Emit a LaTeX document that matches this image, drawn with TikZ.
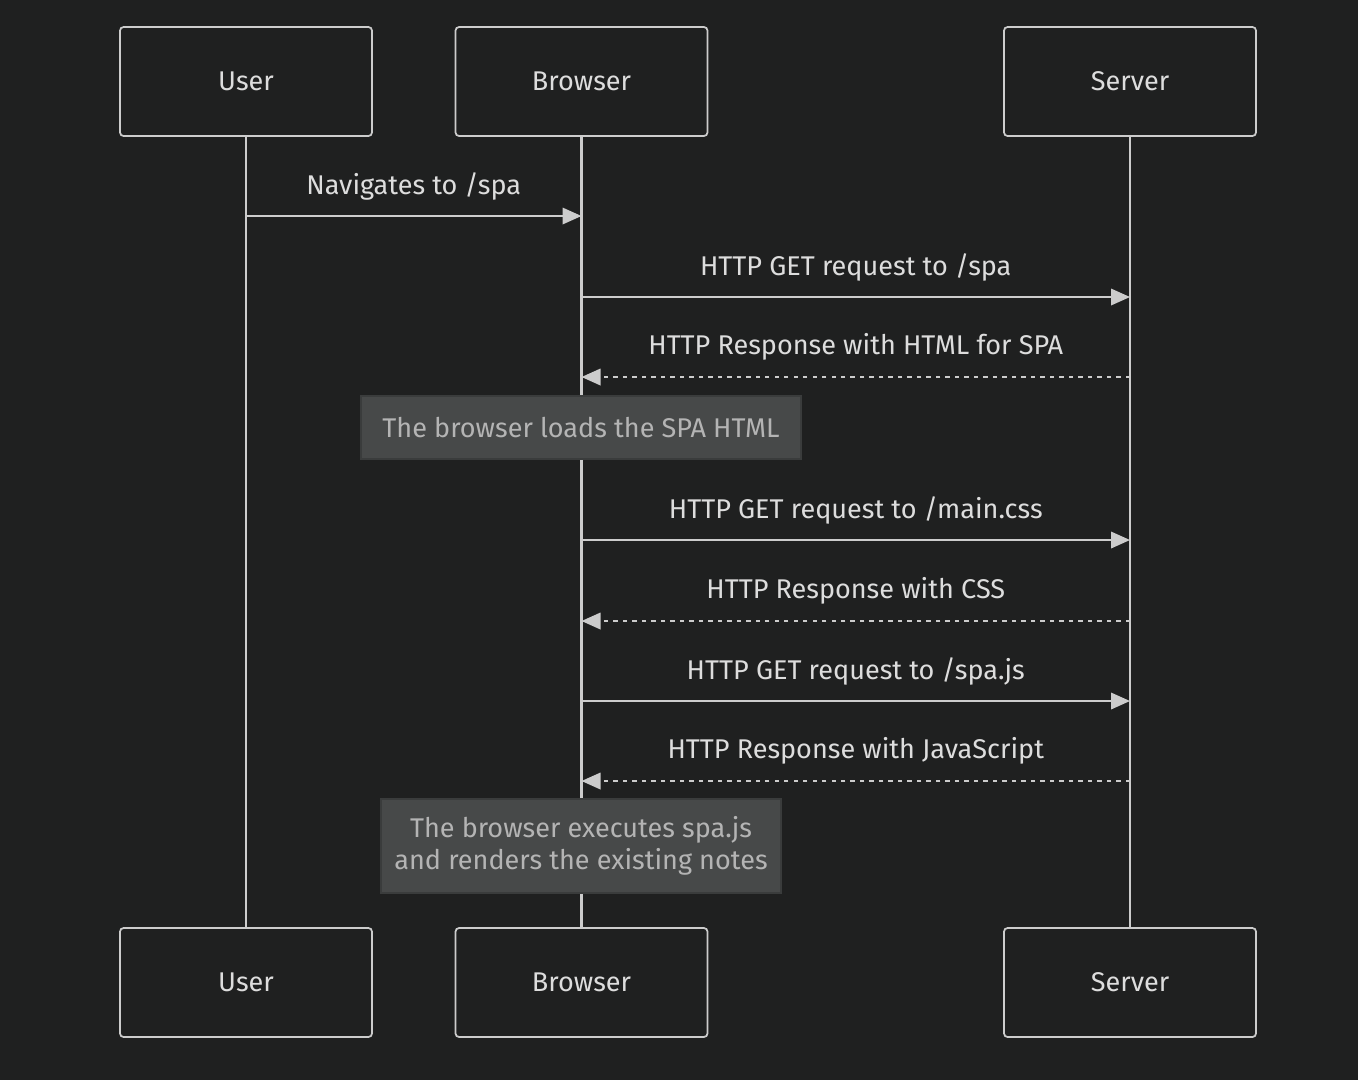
\documentclass[tikz,border=0pt]{standalone}
\usepackage{fontspec}
\setmainfont{Fira Sans}
\usetikzlibrary{arrows.meta}
\definecolor{bg}{HTML}{1F2020}
\definecolor{linec}{HTML}{CCCCCC}
\definecolor{textc}{HTML}{DDDDDD}
\definecolor{notefill}{HTML}{474949}
\definecolor{notedraw}{HTML}{3A3C3C}
\definecolor{notetext}{HTML}{B4B4B4}

\begin{document}
\begin{tikzpicture}[x=0.02cm,y=-0.02cm,
    font=\fontsize{15.4}{18.2}\selectfont,
    actor/.style={draw=linec,fill=bg,line width=1pt,rounded corners=2pt,
        minimum width=5.04cm,minimum height=2.18cm,text=textc},
    life/.style={linec,line width=1.6pt},
    msg/.style={linec,line width=1.1pt,-{Triangle[length=0.38cm,width=0.33cm]}},
    reply/.style={msg,dash pattern=on 2.5pt off 2.9pt},
    lbl/.style={midway,yshift=0.6cm,text=textc},
    note/.style={draw=notedraw,fill=notefill,line width=1pt,text=notetext,align=center}]
    \fill[bg] (0,0) rectangle (1358,1080);
    % actors, top and bottom
    \node[actor] (user) at (246,81.5) {User};
    \node[actor] (browser) at (581.5,81.5) {Browser};
    \node[actor] (server) at (1130,81.5) {Server};
    \node[actor] (userb) at (246,982.5) {User};
    \node[actor] (browserb) at (581.5,982.5) {Browser};
    \node[actor] (serverb) at (1130,982.5) {Server};
    % lifelines
    \draw[life] (user) -- (userb);
    \draw[life] (browser) -- (browserb);
    \draw[life] (server) -- (serverb);
    % message rows
    \coordinate (m1) at (0,216);
    \coordinate (m2) at (0,297);
    \coordinate (m3) at (0,377);
    \coordinate (m4) at (0,540);
    \coordinate (m5) at (0,621);
    \coordinate (m6) at (0,701);
    \coordinate (m7) at (0,781);
    \draw[msg] (user |- m1) -- node[lbl] {Navigates to /spa} (browser |- m1);
    \draw[msg] (browser |- m2) -- node[lbl] {HTTP GET request to /spa} (server |- m2);
    \draw[reply] (server |- m3) -- node[lbl] {HTTP Response with HTML for SPA} (browser |- m3);
    \node[note,minimum width=8.8cm,minimum height=1.26cm] (loaded) at (581,427.5) {The browser loads the SPA HTML};
    \draw[msg] (browser |- m4) -- node[lbl] {HTTP GET request to /main.css} (server |- m4);
    \draw[reply] (server |- m5) -- node[lbl] {HTTP Response with CSS} (browser |- m5);
    \draw[msg] (browser |- m6) -- node[lbl] {HTTP GET request to /spa.js} (server |- m6);
    \draw[reply] (server |- m7) -- node[lbl] {HTTP Response with JavaScript} (browser |- m7);
    \node[note,minimum width=8cm,minimum height=1.88cm] (executes) at (581,846) {The browser executes spa.js\\and renders the existing notes};
\end{tikzpicture}
\end{document}
